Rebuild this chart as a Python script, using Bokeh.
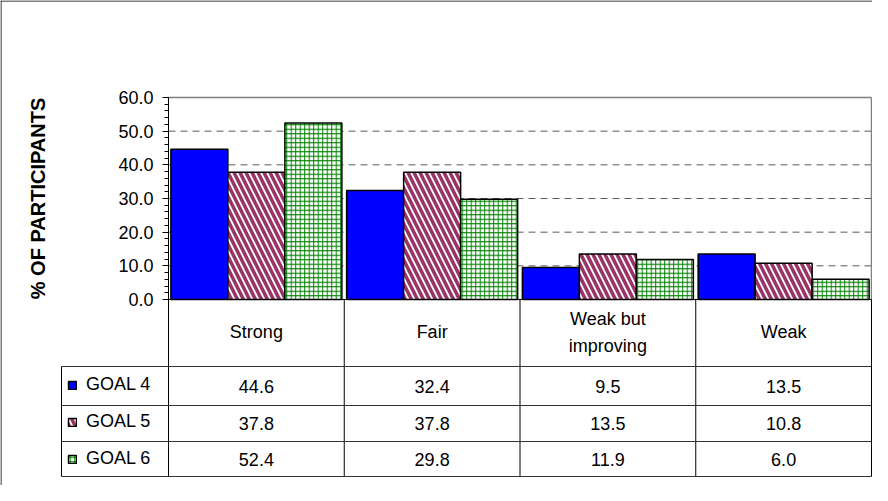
from bokeh.plotting import figure
from bokeh.models import (Range1d, LinearAxis, SingleIntervalTicker, NumeralTickFormatter,
                          Legend, LegendItem)
from bokeh.embed import file_html
from bokeh.resources import INLINE
from bokeh.core.properties import value

# ---------------- data ----------------
categories = ["Strong", "Fair", "Weak but\nimproving", "Weak"]
series_names = ["GOAL 4", "GOAL 5", "GOAL 6"]
goal4 = [44.6, 32.4, 9.5, 13.5]
goal5 = [37.8, 37.8, 13.5, 10.8]
goal6 = [52.4, 29.8, 11.9, 6.0]
y_ticks = [0, 10, 20, 30, 40, 50, 60]
y_label = "% OF PARTICIPANTS"

# ---------------- layout (pixels) ----------------
W, H = 872, 485
PL = 168          # plot area left (px)
CW = 175.75       # width of one category (px)
PT = 97           # plot area top (px)
PB = 299          # baseline (px)
YMAX = y_ticks[-1]
PPU = (PB - PT) / YMAX
LEG_L = 61        # legend column left (px)
ROWS = [366, 405, 441, 476]   # table row borders (px)
NCAT = len(categories)
FONT = "Liberation Sans"
FS = "18px"

p = figure(width=W, height=H,
           x_range=Range1d(-PL / CW, (W - PL) / CW),
           y_range=Range1d(-(H - PB) / PPU, PB / PPU),
           x_axis_type=None, y_axis_type=None,
           output_backend="svg", toolbar_location=None, title=None,
           min_border=0, outline_line_color=None,
           background_fill_color="white", border_fill_color="white")
p.extra_x_ranges = {"px": Range1d(0, W)}
p.extra_y_ranges = {"px": Range1d(H, 0)}

# outer frame
p.segment(x0=[0.5, 0], y0=[0, 0.5], x1=[0.5, W], y1=[H, 0.5],
          line_color="black", line_width=1,
          x_range_name="px", y_range_name="px")

# gridlines (dashed) and plot-area border
for t in y_ticks[1:-1]:
    p.segment(x0=0, y0=t, x1=NCAT, y1=t, line_color="#5a5a5a", line_width=1,
              line_dash="7 5")
p.segment(x0=[0, NCAT], y0=[YMAX, 0], x1=[NCAT, NCAT], y1=[YMAX, YMAX],
          line_color="#808080", line_width=1.5)

# bars
BW = 0.3243
offsets = [-BW, 0.0, BW]
styles = [
    dict(fill_color="#0000FF"),
    dict(fill_color="white", hatch_pattern="left_diagonal_line",
         hatch_color="#993366", hatch_scale=12, hatch_weight=3.5),
    dict(fill_color="white", hatch_pattern="cross",
         hatch_color="#008000", hatch_scale=4.5, hatch_weight=1),
]
series = [goal4, goal5, goal6]
renderers = []
for vals, off, st in zip(series, offsets, styles):
    xs = [i + 0.5 + off for i in range(NCAT)]
    r = p.vbar(x=xs, top=vals, bottom=0, width=BW,
               line_color="black", line_width=1.5, **st)
    renderers.append(r)

# y axis
yaxis = LinearAxis(fixed_location=0, bounds=(0, YMAX),
                   ticker=SingleIntervalTicker(interval=10, num_minor_ticks=5),
                   formatter=NumeralTickFormatter(format="0.0"),
                   axis_label=y_label,
                   axis_label_text_font=FONT, axis_label_text_font_size="20px",
                   axis_label_text_font_style="bold", axis_label_text_color="black",
                   axis_label_standoff=66,
                   major_label_text_font=FONT, major_label_text_font_size=FS,
                   major_label_text_color="black", major_label_standoff=9,
                   major_tick_in=0, major_tick_out=6,
                   minor_tick_in=0, minor_tick_out=4,
                   axis_line_color="black", major_tick_line_color="black",
                   minor_tick_line_color="black")
p.add_layout(yaxis, "left")

# data table: lines
p.segment(x0=0, y0=PB, x1=NCAT, y1=PB, line_color="black", line_width=1,
          y_range_name="px")
p.segment(x0=list(range(NCAT + 1)), y0=[PB] * (NCAT + 1),
          x1=list(range(NCAT + 1)), y1=[ROWS[-1]] * (NCAT + 1),
          line_color="black", line_width=1, y_range_name="px")
p.segment(x0=[LEG_L] * len(ROWS), y0=ROWS, x1=[PL + NCAT * CW] * len(ROWS), y1=ROWS,
          line_color="#333333", line_width=1,
          x_range_name="px", y_range_name="px")
p.segment(x0=LEG_L, y0=ROWS[0], x1=LEG_L, y1=ROWS[-1], line_color="black",
          line_width=1, x_range_name="px", y_range_name="px")

# data table: texts
p.text(x=[i + 0.5 for i in range(NCAT)], y=[(PB + ROWS[0]) / 2 - 1] * NCAT,
       text=categories, text_align="center", text_baseline="middle",
       text_font=value(FONT), text_font_size=FS, text_color="black",
       text_line_height=1.35, y_range_name="px")
for k, vals in enumerate(series):
    yc = (ROWS[k] + ROWS[k + 1]) / 2
    p.text(x=[i + 0.5 for i in range(NCAT)], y=[yc] * NCAT,
           text=["%.1f" % v for v in vals], text_align="center",
           text_baseline="middle", text_font=value(FONT), text_font_size=FS,
           text_color="black", y_range_name="px")

# legend inside the table
legend = Legend(items=[LegendItem(label=n, renderers=[r])
                       for n, r in zip(series_names, renderers)],
                location=(LEG_L + 6, H - ROWS[-1] + 7),
                glyph_width=10, glyph_height=10, label_standoff=9,
                label_height=21, spacing=16, padding=0, margin=0,
                label_text_font=FONT, label_text_font_size=FS,
                label_text_color="black",
                background_fill_alpha=0, border_line_color=None)
p.add_layout(legend)

open("out.html", "w").write(file_html(p, INLINE))
